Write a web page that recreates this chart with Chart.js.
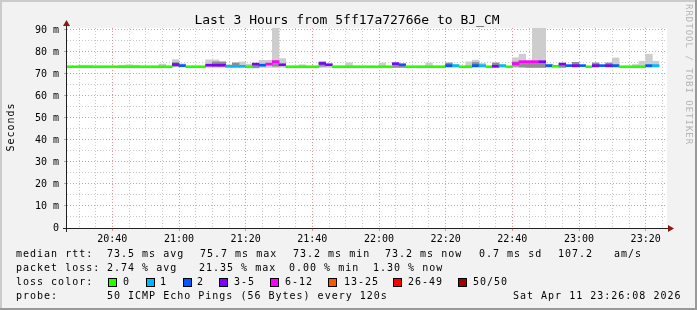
<!DOCTYPE html>
<html>
<head>
<meta charset="utf-8">
<script src="https://cdn.jsdelivr.net/npm/chart.js@4.4.1/dist/chart.umd.min.js"></script>
<style>
  html, body { margin: 0; padding: 0; background: #f2f2f2; }
</style>
</head>
<body>
<canvas id="smoke" width="697" height="310"></canvas>
<script>
// 2-minute steps, minutes counted from 20:00
const slotStart = 26;
const slotStep = 2;
const axisMin = 26.4, axisMax = 206.4;

const timeLabels = ['20:40', '21:00', '21:20', '21:40', '22:00', '22:20', '22:40', '23:00', '23:20'];
const yLabels = ['0', '10 m', '20 m', '30 m', '40 m', '50 m', '60 m', '70 m', '80 m', '90 m'];

const lossNames = ['0', '1', '2', '3-5', '6-12', '13-25', '26-49', '50/50'];
const lossUpper = [0, 1, 2, 5, 12, 25, 49, 50];
const lossColors = ['#26ff00', '#00b8ff', '#0059ff', '#7e00ff', '#ff00ff', '#ff5500', '#ff0000', '#a10000'];

// median rtt (ms) per step
const median = [
  73.3, 73.3, 73.3, 73.3, 73.3, 73.3, 73.3, 73.3, 73.3, 73.3,
  73.3, 73.3, 73.3, 73.3, 73.3, 73.3, 74.3, 73.8, 73.3, 73.3,
  73.3, 74.0, 74.0, 74.0, 73.5, 73.5, 73.5, 73.3, 74.5, 74.0,
  74.5, 75.6, 74.2, 73.3, 73.3, 73.3, 73.3, 73.3, 74.8, 74.2,
  73.3, 73.3, 73.3, 73.3, 73.3, 73.3, 73.3, 73.3, 73.3, 74.7,
  74.2, 73.3, 73.3, 73.3, 73.3, 73.3, 73.3, 73.8, 73.8, 73.3,
  73.3, 73.8, 73.8, 73.3, 73.5, 73.8, 73.3, 74.7, 75.6, 75.6,
  75.6, 75.6, 73.8, 73.5, 74.5, 73.8, 73.8, 73.8, 73.3, 73.8,
  73.8, 73.8, 73.8, 73.3, 73.3, 73.3, 73.3, 73.8, 73.8
];

// lost pings out of 50 per step
const lossPings = [
  0, 0, 0, 0, 0, 0, 0, 0, 0, 0,
  0, 0, 0, 0, 0, 0, 3, 2, 0, 0,
  0, 3, 3, 3, 1, 1, 1, 0, 3, 2,
  7, 11, 3, 0, 0, 0, 0, 0, 3, 3,
  0, 0, 0, 0, 0, 0, 0, 0, 0, 3,
  2, 0, 0, 0, 0, 0, 0, 2, 1, 0,
  0, 2, 1, 0, 3, 1, 0, 6, 9, 8,
  7, 3, 2, 0, 3, 2, 3, 2, 0, 3,
  2, 3, 2, 0, 0, 0, 0, 2, 1
];

// light smoke: min / max ping (ms)
const smokeMin = [
  null, null, 73.0, 73.0, null, null, null, null, 73.0, 73.0,
  73.0, null, null, null, 73.0, null, 73.2, 73.2, null, null,
  null, 73.0, 73.0, 73.0, 73.0, 73.0, 73.0, 73.0, 72.8, 73.0,
  73.0, 73.0, 73.0, null, null, 73.0, null, null, 73.0, 73.0,
  null, null, 73.0, null, null, null, null, 73.0, null, 73.0,
  73.0, null, null, null, 73.0, null, null, 73.0, 73.0, null,
  73.0, 73.0, 73.0, null, 73.0, 73.0, null, 73.0, 73.0, 73.0,
  73.0, 73.0, 73.0, null, 73.0, null, 73.0, null, null, 73.0,
  null, 73.0, 73.0, null, null, 73.0, 73.0, 73.0, 73.0
];
const smokeMax = [
  null, null, 74.0, 74.0, null, null, null, null, 74.0, 74.2,
  74.0, null, null, null, 74.5, null, 76.5, 74.6, null, null,
  null, 76.4, 76.4, 75.5, 74.2, 75.0, 75.5, 74.5, 74.8, 76.2,
  76.2, 91.0, 77.0, null, null, 74.2, null, null, 75.5, 74.5,
  null, null, 75.1, null, null, null, null, 75.0, null, 75.0,
  74.5, null, null, null, 75.0, null, null, 75.0, 74.2, null,
  75.5, 76.3, 74.8, null, 75.0, 74.2, null, 77.4, 79.0, 76.0,
  91.0, 91.0, 74.5, null, 75.0, null, 75.3, null, null, 75.0,
  null, 75.0, 77.3, null, null, 74.3, 75.8, 79.0, 75.8
];

// dark smoke: middle pings (ms)
const coreMin = [
  null, null, null, null, null, null, null, null, null, null,
  null, null, null, null, null, null, 73.5, null, null, null,
  null, null, 73.5, 73.5, null, 73.3, null, null, 72.8, null,
  null, 73.5, null, null, null, null, null, null, 73.5, null,
  null, null, null, null, null, null, null, null, null, 73.0,
  73.0, null, null, null, null, null, null, 73.3, null, null,
  null, 73.3, null, null, 73.3, null, null, 73.5, 73.2, 73.0,
  73.0, 73.0, null, null, 73.0, null, 73.3, null, null, 73.3,
  null, 73.3, null, null, null, null, null, null, null
];
const coreMax = [
  null, null, null, null, null, null, null, null, null, null,
  null, null, null, null, null, null, 75.2, null, null, null,
  null, null, 75.5, 75.5, null, 75.0, null, null, 74.0, null,
  null, 76.0, null, null, null, null, null, null, 75.5, null,
  null, null, null, null, null, null, null, null, null, 74.5,
  74.0, null, null, null, null, null, null, 75.0, null, null,
  null, 75.2, null, null, 75.0, null, null, 75.5, 75.5, 75.5,
  75.5, 75.5, null, null, 74.5, null, 75.3, null, null, 75.0,
  null, 75.0, null, null, null, null, null, null, null
];

const slotX = i => slotStart + slotStep * i + slotStep / 2;
const floating = (lo, hi) => lo.map((v, i) => v == null ? null : { x: slotX(i), y: [v, hi[i]] }).filter(p => p);
const lossColor = n => lossColors[lossUpper.findIndex(u => n <= u)];
const hhmm = v => {
  const h = 20 + Math.floor(v / 60), m = v % 60;
  return h + ':' + String(m).padStart(2, '0');
};

const mono = 'DejaVu Sans Mono';
const gridMinor = 'rgba(150,150,150,0.5)';
const gridMajor = 'rgba(235,110,110,0.75)';

const barOpts = { grouped: false, barPercentage: 1, categoryPercentage: 1, borderWidth: 0 };

const frame = {
  id: 'frame',
  beforeDraw(chart) {
    const ctx = chart.ctx, a = chart.chartArea;
    ctx.save();
    ctx.fillStyle = '#f2f2f2';
    ctx.fillRect(0, 0, chart.width, chart.height);
    ctx.fillStyle = '#ffffff';
    ctx.fillRect(a.left, a.top, a.right - a.left, a.bottom - a.top);
    ctx.restore();
  },
  afterDraw(chart) {
    const ctx = chart.ctx, a = chart.chartArea;
    ctx.save();
    // axes
    ctx.strokeStyle = '#222';
    ctx.lineWidth = 1;
    ctx.beginPath();
    ctx.moveTo(63, a.bottom + 0.5); ctx.lineTo(a.right + 2, a.bottom + 0.5);
    ctx.moveTo(a.left - 0.5, a.bottom + 4); ctx.lineTo(a.left - 0.5, a.top - 4);
    ctx.stroke();
    ctx.fillStyle = '#8b1a1a';
    ctx.beginPath();
    ctx.moveTo(a.right + 1, a.bottom - 3); ctx.lineTo(a.right + 7, a.bottom + 0.5); ctx.lineTo(a.right + 1, a.bottom + 4);
    ctx.fill();
    ctx.beginPath();
    ctx.moveTo(a.left - 4, a.top - 2); ctx.lineTo(a.left - 0.5, a.top - 8); ctx.lineTo(a.left + 3, a.top - 2);
    ctx.fill();

    // title
    ctx.fillStyle = '#000';
    ctx.font = '13px "' + mono + '"';
    ctx.textAlign = 'center';
    ctx.textBaseline = 'alphabetic';
    ctx.fillText('Last 3 Hours from 5ff17a72766e to BJ_CM', 347, 24);

    // y title
    ctx.font = '10px "' + mono + '"';
    ctx.letterSpacing = '1px';
    ctx.save();
    ctx.translate(14, 127);
    ctx.rotate(-Math.PI / 2);
    ctx.fillText('Seconds', 0, 0);
    ctx.restore();

    // watermark
    ctx.save();
    ctx.fillStyle = '#b4b4b4';
    ctx.font = '9px "' + mono + '"';
    ctx.translate(686, 4);
    ctx.rotate(Math.PI / 2);
    ctx.textAlign = 'left';
    ctx.fillText('RRDTOOL / TOBI OETIKER', 0, 0);
    ctx.restore();

    // footer
    ctx.textAlign = 'left';
    const row = (y, parts) => parts.forEach(([x, t]) => ctx.fillText(t, x, y));
    row(257, [[16, 'median rtt:'], [107, '73.5 ms avg'], [200, '75.7 ms max'], [293, '73.2 ms min'],
              [385, '73.2 ms now'], [479, '0.7 ms sd'], [558, '107.2'], [614, 'am/s']]);
    row(271, [[16, 'packet loss:'], [107, '2.74 % avg'], [199, '21.35 % max'], [289, '0.00 % min'], [373, '1.30 % now']]);
    row(285, [[16, 'loss color:']]);
    const swX = [108, 146, 183, 219, 270, 328, 393, 458];
    const lbX = [123, 160, 197, 234, 285, 344, 408, 473];
    lossNames.forEach((name, i) => {
      ctx.fillStyle = lossColors[i];
      ctx.fillRect(swX[i], 278, 9, 9);
      ctx.strokeStyle = '#000';
      ctx.strokeRect(swX[i] + 0.5, 278.5, 8, 8);
      ctx.fillStyle = '#000';
      ctx.fillText(name, lbX[i], 285);
    });
    row(299, [[16, 'probe:'], [107, '50 ICMP Echo Pings (56 Bytes) every 120s'], [513, 'Sat Apr 11 23:26:08 2026']]);

    // 3d frame
    ctx.fillStyle = '#cbcbcb';
    ctx.fillRect(0, 0, chart.width, 2);
    ctx.fillRect(0, 0, 2, chart.height);
    ctx.fillStyle = '#999999';
    ctx.fillRect(0, chart.height - 2, chart.width, 2);
    ctx.fillRect(chart.width - 2, 0, 2, chart.height);
    ctx.restore();
  }
};

new Chart(document.getElementById('smoke'), {
  type: 'bar',
  data: {
    datasets: [
      {
        label: 'median',
        order: 0,
        data: median.map((m, i) => ({ x: slotX(i), y: [m - 0.45, m + 0.45] })),
        backgroundColor: lossPings.map(lossColor),
        ...barOpts
      },
      { label: 'core', order: 1, data: floating(coreMin, coreMax), backgroundColor: '#8e8e8e', ...barOpts },
      { label: 'smoke', order: 2, data: floating(smokeMin, smokeMax), backgroundColor: '#cdcdcd', ...barOpts }
    ]
  },
  options: {
    responsive: false,
    animation: false,
    devicePixelRatio: 1,
    layout: { padding: { top: 28, right: 30, left: 0, bottom: 0 } },
    plugins: { legend: { display: false }, title: { display: false }, tooltip: { enabled: false } },
    scales: {
      x: {
        type: 'linear',
        offset: false,
        min: axisMin,
        max: axisMax,
        afterFit: s => { s.height = 82; },
        afterBuildTicks: s => {
          const t = [];
          for (let v = 30; v <= 205; v += 5) t.push({ value: v });
          s.ticks = t;
        },
        ticks: {
          autoSkip: false, maxRotation: 0, padding: 2, color: '#000',
          font: { family: mono, size: 10 },
          callback: v => timeLabels.includes(hhmm(v)) ? hhmm(v) : ''
        },
        grid: {
          offset: false,
          lineWidth: 1, tickLength: 3,
          color: c => c.tick && c.tick.value % 20 === 0 ? gridMajor : gridMinor,
          tickColor: c => c.tick && c.tick.value % 20 === 0 ? gridMajor : 'rgba(0,0,0,0)'
        },
        border: { display: false, dash: [1, 2] }
      },
      y: {
        min: 0,
        max: 90.9,
        afterFit: s => { s.width = 67; },
        afterBuildTicks: s => {
          const t = [];
          for (let v = 0; v <= 90; v += 5) t.push({ value: v });
          s.ticks = t;
        },
        ticks: {
          autoSkip: false, padding: 5, color: '#000',
          font: { family: mono, size: 10 },
          callback: v => v % 10 === 0 ? yLabels[v / 10] : ''
        },
        grid: {
          lineWidth: 1, tickLength: 3,
          color: c => c.tick && c.tick.value % 10 === 0 ? gridMajor : gridMinor,
          tickColor: c => c.tick && c.tick.value % 10 === 0 ? gridMajor : 'rgba(0,0,0,0)'
        },
        border: { display: false, dash: [1, 2] }
      }
    }
  },
  plugins: [frame]
});
</script>
</body>
</html>
